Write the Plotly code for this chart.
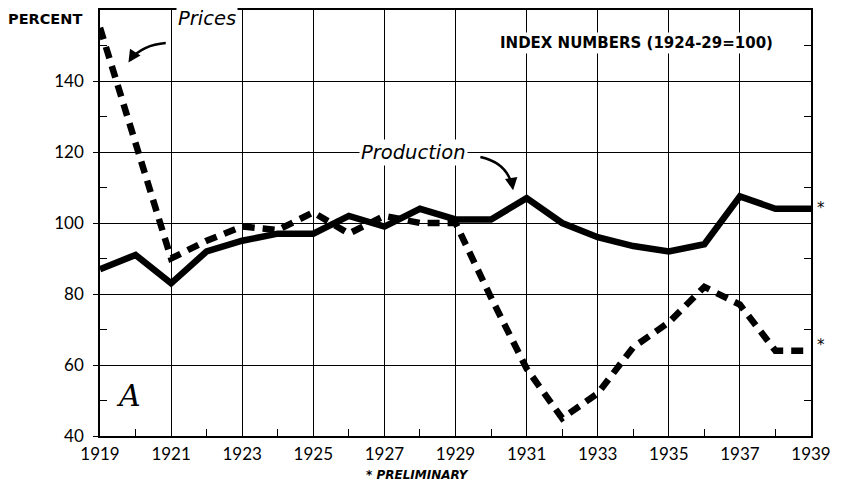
import plotly.graph_objects as go

years = list(range(1919, 1940))
production = [87, 91, 83, 92, 95, 97, 97, 102, 99, 104, 101, 101, 107, 100, 96, 93.5, 92, 94, 107.5, 104, 104]
prices = [155, None, 90, 95, 99, 98, 103, 97, 102, 100, 100, 79, 59, 45, 52, 65, 72, 82, 77, 64, 64]
prices_years = [y for y, v in zip(years, prices) if v is not None]
prices_vals = [v for v in prices if v is not None]

x_ticks = list(range(1919, 1940, 2))
y_ticks = [40, 60, 80, 100, 120, 140]

FONT = "Lato"
WIDE = "DejaVu Sans"

fig = go.Figure()
fig.add_trace(go.Scatter(x=years, y=production, mode="lines",
                         line=dict(color="black", width=6.5), showlegend=False))
fig.add_trace(go.Scatter(x=prices_years, y=prices_vals, mode="lines",
                         line=dict(color="black", width=6.5, dash="12px,8px"), showlegend=False))
# invisible trace on right axis so its minor ticks render
fig.add_trace(go.Scatter(x=[1919], y=[100], yaxis="y2", mode="markers",
                         marker=dict(opacity=0), showlegend=False, hoverinfo="skip"))

fig.update_layout(
    width=836, height=476,
    margin=dict(l=92, r=33, t=2, b=48),
    paper_bgcolor="white", plot_bgcolor="white",
    font=dict(family=FONT, color="black"),
    xaxis=dict(range=[1919, 1939], tickvals=x_ticks, ticktext=[str(v) for v in x_ticks],
               showgrid=True, gridcolor="black", gridwidth=1, zeroline=False,
               showline=True, linecolor="black", linewidth=1.5, mirror=True,
               ticks="", automargin=False, ticklabelstandoff=2,
               tickfont=dict(size=17, family=FONT, color="black"),
               minor=dict(tickvals=list(range(1920, 1939, 2)), ticks="inside", ticklen=7,
                          tickcolor="black", tickwidth=1.2, showgrid=False)),
    yaxis=dict(range=[40, 160], tickvals=y_ticks, ticktext=[str(v) for v in y_ticks],
               showgrid=True, gridcolor="black", gridwidth=1, zeroline=False,
               showline=True, linecolor="black", linewidth=1.5, mirror=True,
               ticks="outside", ticklen=5, tickcolor="black", automargin=False,
               ticklabelstandoff=6,
               tickfont=dict(size=17, family=FONT, color="black"),
               minor=dict(tickvals=[50, 70, 90, 110, 130, 150], ticks="inside", ticklen=7,
                          tickcolor="black", tickwidth=1.2, showgrid=False)),
    yaxis2=dict(range=[40, 160], overlaying="y", side="right", showgrid=False,
                showticklabels=False, ticks="", zeroline=False, showline=False,
                automargin=False,
                minor=dict(tickvals=[50, 70, 90, 110, 130, 150], ticks="inside", ticklen=7,
                           tickcolor="black", tickwidth=1.2, showgrid=False)),
)

# curved arrows
fig.add_shape(type="path", xref="x", yref="y",
              path="M 1920.85,150.7 Q 1920.2,150.2 1919.85,146",
              line=dict(color="black", width=2.5))
fig.add_annotation(x=1919.8, y=145.2, ax=1919.93, ay=147.2, xref="x", yref="y",
                   axref="x", ayref="y", showarrow=True, arrowhead=2, arrowsize=1,
                   arrowwidth=2.5, arrowcolor="black", text="")
fig.add_shape(type="path", xref="x", yref="y",
              path="M 1929.7,118.6 Q 1930.45,117 1930.6,110.3",
              line=dict(color="black", width=2.5))
fig.add_annotation(x=1930.62, y=109.2, ax=1930.58, ay=111.8, xref="x", yref="y",
                   axref="x", ayref="y", showarrow=True, arrowhead=2, arrowsize=1,
                   arrowwidth=2.5, arrowcolor="black", text="")

fig.add_annotation(x=1922.0, y=157.7, xref="x", yref="y", text="<i>Prices</i>",
                   showarrow=False, font=dict(size=19.5, family=WIDE), bgcolor="white")
fig.add_annotation(x=1927.83, y=120, xref="x", yref="y", text="<i>Production</i>",
                   showarrow=False, font=dict(size=19.5, family=WIDE), bgcolor="white")
fig.add_annotation(x=1934.1, y=150.7, xref="x", yref="y", text="<b>INDEX NUMBERS (1924-29=100)</b>",
                   showarrow=False, font=dict(size=15, family=WIDE), bgcolor="white")
fig.add_annotation(x=1919.8, y=51.5, xref="x", yref="y", text="<i>A</i>",
                   showarrow=False, font=dict(size=30, family="DejaVu Serif"))
fig.add_annotation(x=1.014, y=104.2, xref="paper", yref="y", text="*",
                   xanchor="center", yanchor="middle",
                   showarrow=False, font=dict(size=15, family=WIDE, color="black"))
fig.add_annotation(x=1.014, y=65.6, xref="paper", yref="y", text="*",
                   xanchor="center", yanchor="middle",
                   showarrow=False, font=dict(size=15, family=WIDE, color="black"))
fig.add_annotation(x=0.447, y=-0.0915, xref="paper", yref="paper",
                   xanchor="center", yanchor="middle",
                   text="<b><i>* PRELIMINARY</i></b>",
                   showarrow=False, font=dict(size=12, family=WIDE))
fig.add_annotation(x=-0.0774, y=0.979, xref="paper", yref="paper", text="<b>PERCENT</b>",
                   xanchor="center", yanchor="middle",
                   showarrow=False, font=dict(size=14.5, family=WIDE))

fig.write_html("out.html")
